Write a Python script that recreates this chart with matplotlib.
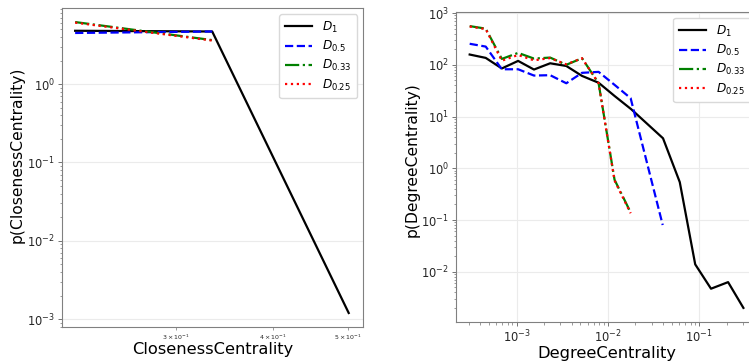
import matplotlib
matplotlib.use("Agg")
import matplotlib.pyplot as plt

# Closeness centrality distributions
cc_x_d1 = [0.2223, 0.334, 0.501]
cc_y_d1 = [4.8, 4.7, 1.2e-3]
cc_x_d05 = [0.2223, 0.334]
cc_y_d05 = [4.5, 4.7]
cc_x_d033 = [0.2223, 0.334]
cc_y_d033 = [6.2, 3.65]
cc_x_d025 = [0.2223, 0.334]
cc_y_d025 = [6.1, 3.6]

# Degree centrality distributions
dc_x_d1 = [3.07e-4, 4.6e-4, 6.9e-4, 1.04e-3, 1.55e-3, 2.33e-3, 3.5e-3, 5.2e-3,
           7.9e-3, 1.18e-2, 1.8e-2, 4.0e-2, 6.1e-2, 9.0e-2, 0.134, 0.206, 0.303]
dc_y_d1 = [158, 136, 85, 119, 81, 107, 95, 61,
           45, 25, 13.8, 3.8, 0.54, 0.0139, 0.0047, 0.0063, 0.0020]
dc_x_d05 = [3.07e-4, 4.6e-4, 6.9e-4, 1.04e-3, 1.55e-3, 2.33e-3, 3.5e-3, 5.2e-3,
            7.9e-3, 1.18e-2, 1.77e-2, 3.97e-2]
dc_y_d05 = [255, 225, 82, 82, 62, 63, 44, 70, 73, 41, 22.6, 0.08]
dc_x_d033 = [3.07e-4, 4.6e-4, 6.9e-4, 1.04e-3, 1.55e-3, 2.33e-3, 3.5e-3, 5.2e-3,
             7.9e-3, 1.18e-2, 1.77e-2]
dc_y_d033 = [560, 500, 130, 170, 132, 138, 100, 134, 44, 0.6, 0.14]
dc_x_d025 = [3.07e-4, 4.6e-4, 6.9e-4, 1.04e-3, 1.55e-3, 2.33e-3, 3.5e-3, 5.2e-3,
             7.9e-3, 1.18e-2, 1.77e-2]
dc_y_d025 = [550, 490, 120, 155, 122, 135, 102, 134, 44, 0.58, 0.135]

labels = ["$D_1$", "$D_{0.5}$", "$D_{0.33}$", "$D_{0.25}$"]
styles = [("k", "-"), ("b", "--"), ("g", "-."), ("r", ":")]

fig = plt.figure(figsize=(7.49, 3.64), dpi=100)
ax1 = fig.add_axes([0.0828, 0.1016, 0.4019, 0.876])
ax2 = fig.add_axes([0.6088, 0.1154, 0.402, 0.8516])

cc = [(cc_x_d1, cc_y_d1), (cc_x_d05, cc_y_d05), (cc_x_d033, cc_y_d033), (cc_x_d025, cc_y_d025)]
dc = [(dc_x_d1, dc_y_d1), (dc_x_d05, dc_y_d05), (dc_x_d033, dc_y_d033), (dc_x_d025, dc_y_d025)]

for ax, data in [(ax1, cc), (ax2, dc)]:
    for (x, y), (c, ls), lab in zip(data, styles, labels):
        ax.plot(x, y, color=c, linestyle=ls, linewidth=1.6, label=lab)
    ax.set_xscale("log")
    ax.set_yscale("log")
    ax.grid(True, which="major", color="0.92", linewidth=0.8)
    for s in ax.spines.values():
        s.set_color("0.5")
    ax.tick_params(which="both", colors="0.45", labelcolor="0.15", labelsize=8.3, pad=2)
    ax.tick_params(which="major", length=3, width=0.7)
    ax.tick_params(which="minor", length=1.8, width=0.5)
    ax.legend(loc="upper right", fontsize=8.7, handlelength=2.3, framealpha=1,
              edgecolor="0.85", borderpad=0.45, labelspacing=0.35)

ax1.tick_params(axis="x", which="minor", labelsize=4.5)
ax1.set_xlim(0.2138, 0.5228)
ax1.set_ylim(10 ** -3.1, 10 ** 0.97)
ax1.set_xlabel("ClosenessCentrality", fontsize=11.7, labelpad=0)
ax1.set_ylabel("p(ClosenessCentrality)", fontsize=11.2)
ax1.yaxis.set_label_coords(-0.125, 0.54)

ax2.set_xlabel("DegreeCentrality", fontsize=11.7, labelpad=0)
ax2.set_ylabel("p(DegreeCentrality)", fontsize=11.2)
ax2.yaxis.set_label_coords(-0.12, 0.523)

fig.savefig("out.png", dpi=100)
